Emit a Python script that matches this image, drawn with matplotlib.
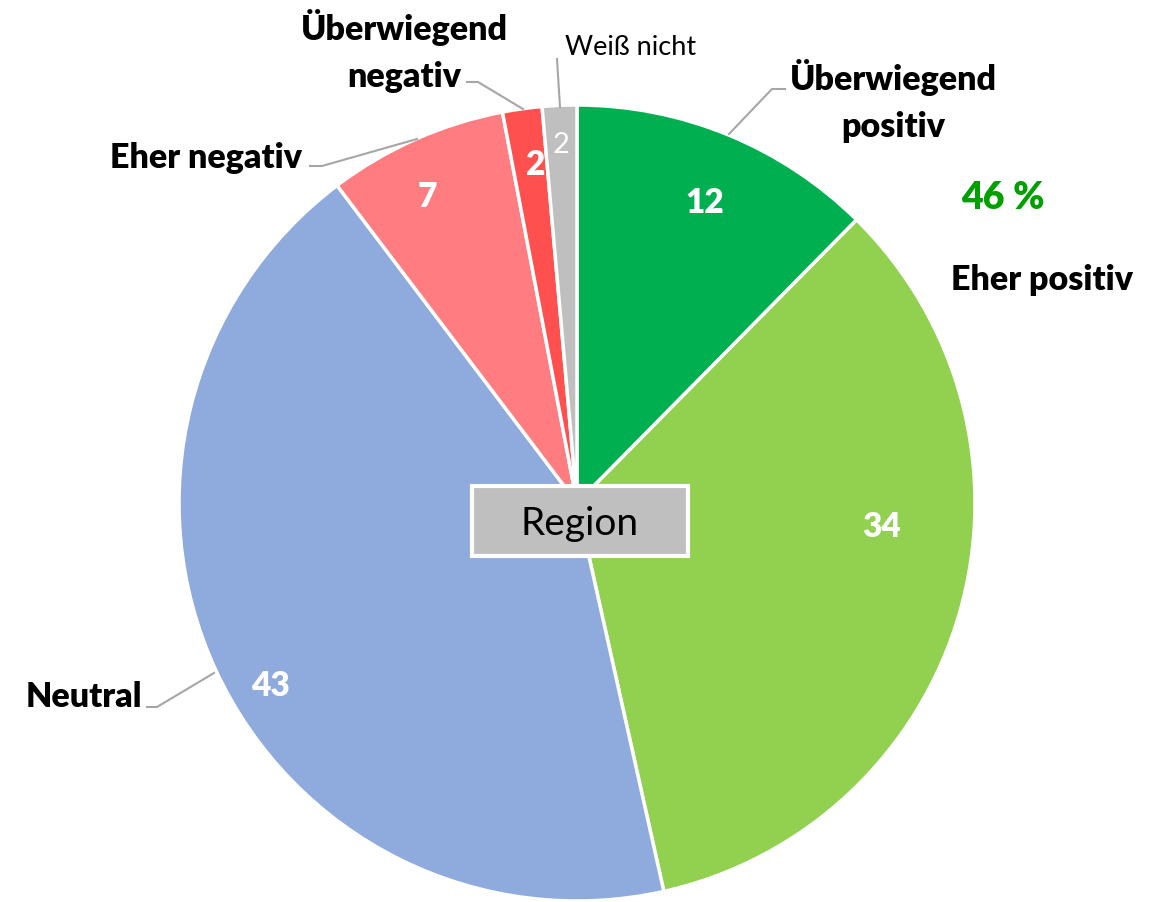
import matplotlib.pyplot as plt
from matplotlib.patches import FancyBboxPatch

plt.rcParams['font.family'] = ['Lato', 'DejaVu Sans']

# данные
categories = ['Überwiegend positiv', 'Eher positiv', 'Neutral',
              'Eher negativ', 'Überwiegend negativ', 'Weiß nicht']
shares = [12.4, 34.1, 43.2, 7.3, 1.6, 1.4]
value_labels = ['12', '34', '43', '7', '2', '2']
colors = ['#00B050', '#92D050', '#8FAADC', '#FF7C80', '#FF5050', '#BFBFBF']
positive_total = '46 %'

W, H = 1161, 903
fig = plt.figure(figsize=(W / 100, H / 100), dpi=100)
ax = fig.add_axes([0, 0, 1, 1])


def py(y):
    return H - y


cx, cy, R = 577, py(504), 398
ax.pie(shares, colors=colors, startangle=90, counterclock=False,
       center=(cx, cy), radius=R, frame=True,
       wedgeprops=dict(edgecolor='white', linewidth=2.5))
ax.set_xlim(0, W)
ax.set_ylim(0, H)
ax.axis('off')

# значения внутри секторов
val_pos = [(705, 203), (882, 527), (270, 686), (427, 197), (536, 165), (561, 145)]
for (x, y), lab, i in zip(val_pos, value_labels, range(len(value_labels))):
    ax.text(x, py(y), lab, color='white', fontsize=24 if i < 5 else 21,
            fontweight='heavy' if i < 5 else 'normal',
            ha='center', va='center')

# подписи категорий
line_c = '#A6A6A6'
cat_pos = [(893, 101), (1042, 280), (84, 697), (206, 158), (404, 51), (631, 47)]
for (x, y), lab, i in zip(cat_pos, categories, range(len(categories))):
    txt = lab
    if i == 0:
        txt = 'Überwiegend\npositiv'
    if i == 4:
        txt = 'Überwiegend\nnegativ'
    ax.text(x, py(y), txt, color='black', fontsize=24.5 if i < 5 else 19.5,
            fontweight='heavy' if i < 5 else 'normal',
            ha='center', va='center', linespacing=1.55)

leaders = [
    [(729, 135), (772, 90), (785, 90)],
    [(147, 708), (157, 708), (214, 674)],
    [(310, 167), (322, 167), (417, 140)],
    [(467, 83), (478, 83), (523, 110)],
    [(557, 60), (560, 108)],
]
for pts in leaders:
    ax.plot([p[0] for p in pts], [py(p[1]) for p in pts], color=line_c, lw=1.5)

ax.text(1003, py(198), positive_total, color='#00A000', fontsize=27,
        fontweight='heavy', ha='center', va='center')

# подпись в центре
box = FancyBboxPatch((472, py(557)), 216, 70, boxstyle='square,pad=0',
                     facecolor='#BFBFBF', edgecolor='white', linewidth=3)
ax.add_patch(box)
ax.text(580, py(524), 'Region', color='black', fontsize=28,
        ha='center', va='center')

fig.savefig('out.png', dpi=100)
